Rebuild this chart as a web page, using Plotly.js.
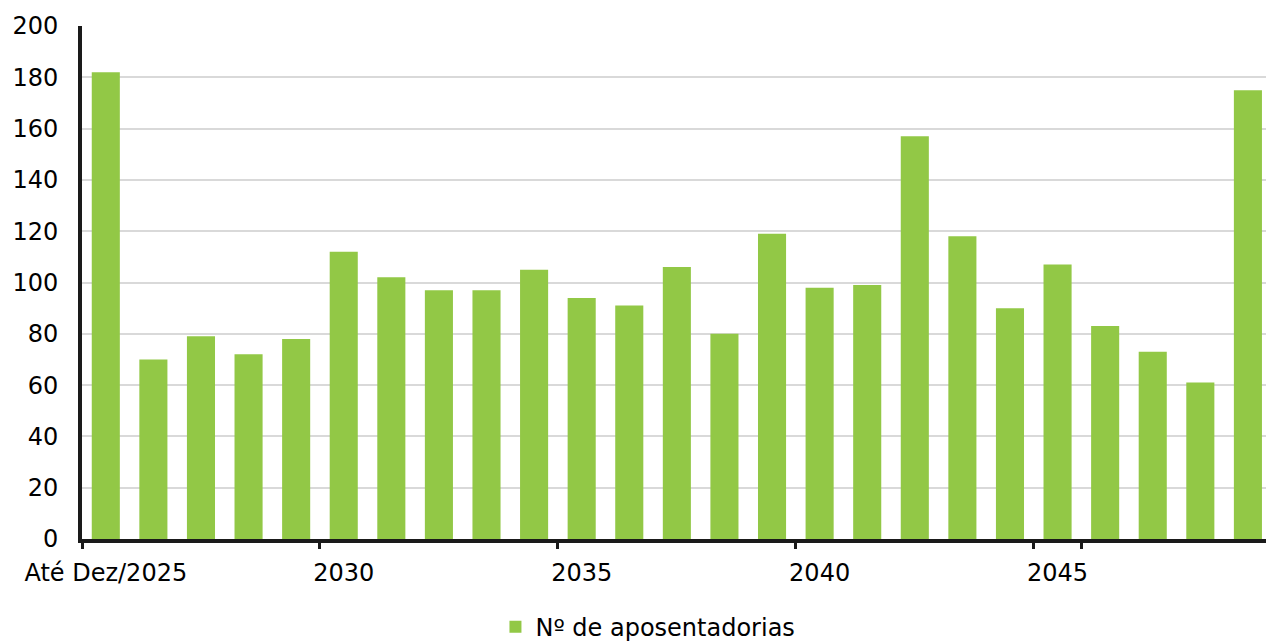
<!DOCTYPE html>
<html>
<head>
<meta charset="utf-8">
<script src="https://cdn.plot.ly/plotly-3.0.1.min.js"></script>
<style>html,body{margin:0;padding:0;background:#fff;}#chart{width:1266px;height:641px;}</style>
</head>
<body>
<div id="chart"></div>
<script>
const categories = ['Até Dez/2025','2026','2027','2028','2029','2030','2031','2032','2033','2034','2035','2036','2037','2038','2039','2040','2041','2042','2043','2044','2045','2046','2047','2048','2049'];
const aposentadorias = [182,70,79,72,78,112,102,97,97,105,94,91,106,80,119,98,99,157,118,90,107,83,73,61,175];
const tickLabels = ['Até Dez/2025','2030','2035','2040','2045'];
const yTicks = [0,20,40,60,80,100,120,140,160,180,200];
const seriesName = 'Nº de aposentadorias';

const fontFamily = '"DejaVu Sans", "Liberation Sans", sans-serif';
const fs = 24;

const trace = {
  type: 'bar',
  x: categories,
  y: aposentadorias,
  name: seriesName,
  marker: {color: '#92c846', line: {width: 0}},
  showlegend: true
};

const layout = {
  width: 1266, height: 641,
  margin: {l: 82, r: 0, t: 26, b: 102, autoexpand: false},
  paper_bgcolor: '#ffffff', plot_bgcolor: '#ffffff',
  font: {family: fontFamily, size: fs, color: '#000'},
  bargap: 0.41,
  showlegend: true,
  legend: {orientation: 'h', x: 0.478, xanchor: 'center', y: -0.128, yanchor: 'top',
           itemwidth: 30,
           font: {family: fontFamily, size: fs, color: '#000'}},
  xaxis: {
    type: 'category',
    range: [-0.5, 24.38],
    tickvals: tickLabels,
    ticktext: tickLabels,
    tickson: 'boundaries',
    tickangle: 0,
    automargin: false,
    ticks: 'outside', ticklen: 6, tickwidth: 3, tickcolor: '#1a1a1a',
    showline: true, linecolor: '#1a1a1a', linewidth: 4,
    showgrid: false, zeroline: false,
    ticklabelstandoff: 9,
    tickfont: {family: fontFamily, size: fs, color: '#000'},
    fixedrange: true
  },
  yaxis: {
    range: [0, 200],
    tickvals: yTicks,
    automargin: false,
    showline: true, linecolor: '#1a1a1a', linewidth: 4,
    showgrid: true, gridcolor: '#d9d9d9', gridwidth: 2,
    zeroline: false, ticks: '',
    ticklabelstandoff: 15,
    tickfont: {family: fontFamily, size: fs, color: '#000'},
    fixedrange: true
  }
};

Plotly.newPlot('chart', [trace], layout, {displayModeBar: false, staticPlot: true});
</script>
</body>
</html>
